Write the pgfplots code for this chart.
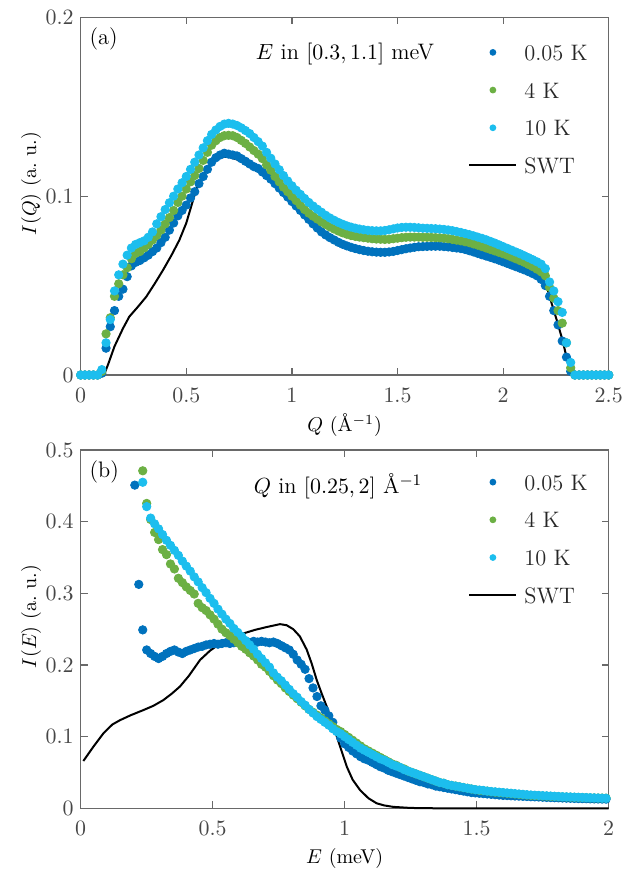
\documentclass[border=0pt]{standalone}
\usepackage{pgfplots}
\usepackage{pgfplotstable}
\pgfplotsset{compat=1.18}
\definecolor{c1}{RGB}{0,114,189}
\definecolor{c2}{RGB}{108,176,68}
\definecolor{c3}{RGB}{28,190,238}
\definecolor{axgray}{RGB}{105,105,105}
\definecolor{txtgray}{RGB}{70,70,70}
\newcommand\ff{\fontsize{11.2}{13.4}\selectfont}

\pgfplotstableread{
Q d05 d4 d10
0.00 0 0 0
0.02 0 0 0
0.04 0 0 0
0.06 0 0 0
0.08 0 0 0
0.10 0.001 0.002 0.003
0.12 0.015 0.023 0.018
0.14 0.027 0.032 0.031
0.16 0.036 0.044 0.047
0.18 0.044 0.051 0.056
0.20 0.048 0.056 0.062
0.22 0.055 0.060 0.067
0.24 0.061 0.065 0.071
0.26 0.063 0.068 0.073
0.28 0.064 0.069 0.074
0.30 0.0655 0.071 0.075
0.32 0.067 0.073 0.077
0.34 0.069 0.0755 0.080
0.36 0.071 0.078 0.0845
0.38 0.074 0.081 0.0885
0.40 0.077 0.0845 0.0925
0.42 0.081 0.088 0.0963
0.44 0.085 0.092 0.100
0.46 0.089 0.0965 0.104
0.48 0.092 0.100 0.1075
0.50 0.095 0.104 0.111
0.52 0.099 0.108 0.115
0.54 0.1025 0.1115 0.119
0.56 0.107 0.1155 0.123
0.58 0.111 0.120 0.127
0.60 0.115 0.1245 0.131
0.62 0.119 0.1285 0.1345
0.64 0.1215 0.131 0.137
0.66 0.123 0.1328 0.139
0.68 0.124 0.1338 0.1403
0.70 0.1235 0.134 0.1407
0.72 0.123 0.1338 0.1403
0.74 0.1225 0.1328 0.1395
0.76 0.121 0.1312 0.1382
0.78 0.1195 0.1295 0.1367
0.80 0.118 0.1275 0.135
0.82 0.1165 0.1255 0.1328
0.84 0.1155 0.1235 0.1305
0.86 0.1135 0.121 0.128
0.88 0.1115 0.1175 0.1245
0.90 0.1095 0.1145 0.1212
0.92 0.107 0.111 0.118
0.94 0.1045 0.108 0.1148
0.96 0.102 0.105 0.1115
0.98 0.0995 0.1025 0.1085
1.00 0.097 0.100 0.1058
1.02 0.0945 0.0975 0.1033
1.04 0.092 0.095 0.101
1.06 0.0895 0.0925 0.0987
1.08 0.087 0.0905 0.0965
1.10 0.0845 0.0888 0.0945
1.12 0.0822 0.0872 0.0927
1.14 0.080 0.0856 0.091
1.16 0.0783 0.0842 0.0893
1.18 0.0768 0.0828 0.0878
1.20 0.0755 0.0816 0.0865
1.22 0.0742 0.0805 0.0853
1.24 0.0731 0.0795 0.0843
1.26 0.0722 0.0787 0.0834
1.28 0.0714 0.078 0.0827
1.30 0.0707 0.0775 0.0821
1.32 0.0701 0.0771 0.0816
1.34 0.0696 0.0768 0.0812
1.36 0.0692 0.0765 0.0809
1.38 0.0689 0.0762 0.0807
1.40 0.0687 0.076 0.0806
1.42 0.0686 0.0759 0.0806
1.44 0.0686 0.0758 0.0808
1.46 0.0688 0.0759 0.0812
1.48 0.0691 0.0762 0.0817
1.50 0.0696 0.0765 0.0822
1.52 0.0701 0.0768 0.0825
1.54 0.0706 0.077 0.0826
1.56 0.071 0.0771 0.0826
1.58 0.0714 0.0771 0.0825
1.60 0.0717 0.0771 0.0823
1.62 0.0718 0.077 0.0821
1.64 0.0719 0.077 0.082
1.66 0.072 0.0769 0.0819
1.68 0.072 0.0768 0.0818
1.70 0.072 0.0767 0.0816
1.72 0.0718 0.0765 0.0814
1.74 0.0716 0.0762 0.0811
1.76 0.0713 0.0758 0.0807
1.78 0.071 0.0754 0.0802
1.80 0.0707 0.075 0.0797
1.82 0.0702 0.0745 0.0791
1.84 0.0695 0.074 0.0785
1.86 0.0688 0.0733 0.0778
1.88 0.068 0.0726 0.0771
1.90 0.0672 0.0718 0.0764
1.92 0.0665 0.071 0.0756
1.94 0.0658 0.0702 0.0747
1.96 0.065 0.0694 0.0738
1.98 0.0642 0.0686 0.0728
2.00 0.0633 0.0678 0.0718
2.02 0.0624 0.067 0.0708
2.04 0.0615 0.066 0.0698
2.06 0.0606 0.065 0.0688
2.08 0.0597 0.064 0.0678
2.10 0.0588 0.063 0.0667
2.12 0.0578 0.0618 0.0656
2.14 0.0567 0.0606 0.0645
2.16 0.0555 0.0592 0.0633
2.18 0.0535 0.0577 0.062
2.20 0.050 0.0555 0.0595
2.22 0.044 0.049 0.052
2.24 0.036 0.043 0.047
2.26 0.028 0.036 0.041
2.28 0.019 0.029 0.035
2.30 0.010 0.018 0.018
2.32 0.002 0.004 0.007
2.34 0 0 0
2.36 0 0 0
2.38 0 0 0
2.40 0 0 0
2.42 0 0 0
2.44 0 0 0
2.46 0 0 0
2.48 0 0 0
2.50 0 0 0
}\tabQ

\pgfplotstableread{
E d05 d4 d10
0.205 0.451 nan nan
0.220 0.3125 nan nan
0.235 0.249 0.471 0.455
0.250 0.221 0.4255 0.421
0.265 0.216 0.403 0.405
0.280 0.212 0.385 0.397
0.295 0.209 0.375 0.390
0.310 0.212 0.361 0.382
0.325 0.216 0.354 0.374
0.340 0.219 0.341 0.367
0.355 0.221 0.334 0.360
0.370 0.218 0.321 0.353
0.385 0.216 0.315 0.345
0.400 0.219 0.309 0.338
0.415 0.221 0.304 0.331
0.430 0.223 0.299 0.323
0.445 0.225 0.286 0.316
0.460 0.226 0.280 0.308
0.475 0.228 0.276 0.301
0.490 0.229 0.270 0.293
0.505 0.230 0.264 0.286
0.520 0.229 0.257 0.278
0.535 0.230 0.250 0.271
0.550 0.231 0.245 0.264
0.565 0.230 0.241 0.258
0.580 0.231 0.236 0.251
0.595 0.232 0.231 0.2455
0.610 0.231 0.226 0.240
0.625 0.232 0.222 0.234
0.640 0.231 0.217 0.228
0.655 0.233 0.2125 0.222
0.670 0.232 0.207 0.215
0.685 0.233 0.201 0.209
0.700 0.232 0.197 0.203
0.715 0.231 0.191 0.197
0.730 0.232 0.185 0.189
0.745 0.230 0.179 0.183
0.760 0.227 0.174 0.178
0.775 0.224 0.168 0.172
0.790 0.221 0.163 0.166
0.805 0.215 0.158 0.160
0.820 0.207 0.153 0.155
0.835 0.201 0.148 0.149
0.850 0.194 0.143 0.144
0.865 0.181 0.138 0.138
0.880 0.168 0.134 0.133
0.895 0.156 0.130 0.128
0.910 0.143 0.126 0.124
0.925 0.137 0.122 0.120
0.940 0.129 0.118 0.116
0.955 0.120 0.114 0.111
0.970 0.108 0.110 0.107
0.985 0.098 0.107 0.104
1.000 0.090 0.103 0.100
1.015 0.085 0.099 0.096
1.030 0.080 0.095 0.092
1.045 0.076 0.091 0.088
1.060 0.072 0.087 0.084
1.075 0.069 0.083 0.081
1.090 0.067 0.080 0.078
1.105 0.064 0.077 0.075
1.120 0.061 0.074 0.072
1.135 0.058 0.071 0.069
1.150 0.056 0.068 0.067
1.165 0.053 0.065 0.064
1.180 0.051 0.062 0.061
1.195 0.049 0.060 0.059
1.210 0.047 0.057 0.057
1.225 0.045 0.055 0.054
1.240 0.043 0.052 0.052
1.255 0.041 0.050 0.050
1.270 0.039 0.048 0.048
1.285 0.037 0.046 0.046
1.300 0.036 0.044 0.044
1.315 0.034 0.042 0.042
1.330 0.033 0.040 0.040
1.345 0.031 0.038 0.038
1.360 0.030 0.036 0.036
1.375 0.029 0.035 0.035
1.390 0.028 0.033 0.033
1.405 0.027 0.032 0.032
1.420 0.026 0.031 0.031
1.435 0.025 0.030 0.030
1.450 0.024 0.029 0.029
1.465 0.023 0.028 0.028
1.480 0.022 0.027 0.027
1.495 0.0215 0.026 0.026
1.510 0.021 0.025 0.0255
1.525 0.0205 0.0245 0.025
1.540 0.020 0.024 0.024
1.555 0.0195 0.023 0.0235
1.570 0.019 0.0225 0.023
1.585 0.0185 0.022 0.0225
1.600 0.018 0.0215 0.022
1.615 0.0178 0.021 0.0215
1.630 0.0175 0.0205 0.021
1.645 0.0172 0.020 0.0205
1.660 0.017 0.0195 0.020
1.675 0.0167 0.019 0.0195
1.690 0.0165 0.0185 0.019
1.705 0.0162 0.018 0.0186
1.720 0.016 0.0178 0.0183
1.735 0.0158 0.0175 0.018
1.750 0.0155 0.0172 0.0177
1.765 0.0152 0.017 0.0174
1.780 0.015 0.0167 0.0171
1.795 0.0148 0.0165 0.0168
1.810 0.0146 0.0162 0.0165
1.825 0.0144 0.016 0.0162
1.840 0.0142 0.0158 0.016
1.855 0.014 0.0156 0.0158
1.870 0.0138 0.0154 0.0156
1.885 0.0136 0.0152 0.0154
1.900 0.0135 0.015 0.0152
1.915 0.0134 0.0148 0.015
1.930 0.0132 0.0146 0.0148
1.945 0.0131 0.0145 0.0146
1.960 0.013 0.0144 0.0144
1.975 0.0129 0.0143 0.0142
1.990 0.0128 0.0142 0.014
}\tabE

\pgfplotsset{
  myaxis/.style={
    scale only axis, width=264pt, xmin=0, ymin=0, clip=false,
    axis line style={axgray, line width=0.6pt},
    every tick/.style={axgray, line width=0.6pt},
    tick align=inside, major tick length=3.5pt,
    xtick pos=both, ytick pos=both,
    tick label style={font=\ff, text=txtgray},
    label style={font=\ff, text=txtgray},
    xticklabel shift=3pt,
    every axis x label/.style={at={(axis description cs:0.5,-0.141)}, anchor=center},
    every axis y label/.style={at={(axis description cs:-0.094,0.535)}, anchor=center, rotate=90},
    legend style={draw=none, fill=none, anchor=north west, font=\ff, text=black!85,
      row sep=10.85pt, column sep=3.5pt, inner sep=0pt,
      nodes={inner sep=0pt, text height=8pt, text depth=0pt}},
    legend cell align=left,
  },
  dots/.style={only marks, mark=*, mark size=2.1pt, color=#1,
    legend image code/.code={\path[draw=none, fill=none] (0pt,0pt) -- (23.5pt,0pt); \path[draw=none, fill=#1] (11.75pt,0pt) circle (1.7pt);}},
  swt/.style={black, line width=1pt, no marks,
    legend image code/.code={\draw[black, line width=1pt] (0pt,0pt) -- (23.5pt,0pt);}},
}

\begin{document}
\begin{tikzpicture}
\useasboundingbox (0,0) rectangle (312pt,-435.5pt);
\begin{axis}[myaxis, at={(40.35pt,-187.5pt)}, anchor=south west, height=178.85pt,
  xmax=2.5, ymax=0.2, xtick={0,0.5,1,1.5,2,2.5}, ytick={0,0.1,0.2},
  xlabel={$Q$ (\AA$^{-1}$)}, ylabel={$I(Q)$ (a.~u.)},
  legend style={at={(0.7335,0.9254)}}]
\addplot[dots=c1] table[x=Q, y=d05] {\tabQ};
\addlegendentry{0.05 K}
\addplot[dots=c2] table[x=Q, y=d4] {\tabQ};
\addlegendentry{4 K}
\addplot[dots=c3] table[x=Q, y=d10] {\tabQ};
\addlegendentry{10 K}
\addplot[swt] coordinates {(0,0) (0.11,0) (0.13,0.006) (0.16,0.016) (0.2,0.026) (0.23,0.0326) (0.27,0.038) (0.31,0.0437) (0.35,0.051) (0.39,0.0587) (0.43,0.067) (0.467,0.0754) (0.50,0.085) (0.546,0.1034) (0.594,0.1145) (0.63,0.1195) (0.657,0.1218) (0.70,0.122) (0.74,0.1205) (0.815,0.1164) (0.85,0.1145) (0.894,0.1108) (0.94,0.1055) (0.989,0.0996) (1.035,0.093) (1.084,0.0866) (1.13,0.0815) (1.179,0.0773) (1.23,0.0737) (1.289,0.0708) (1.35,0.0688) (1.41,0.0677) (1.448,0.0676) (1.49,0.068) (1.527,0.0689) (1.566,0.0702) (1.606,0.0713) (1.66,0.0724) (1.716,0.0731) (1.76,0.0733) (1.80,0.073) (1.843,0.0717) (1.90,0.0695) (1.954,0.067) (2.01,0.0643) (2.065,0.0615) (2.12,0.0583) (2.175,0.055) (2.207,0.0493) (2.23,0.040) (2.254,0.0307) (2.28,0.020) (2.30,0.0102) (2.325,0.001) (2.34,0) (2.5,0)};
\addlegendentry{SWT}
\node[anchor=west, inner sep=0pt, font=\ff] at (rel axis cs:0.0163,0.9393) {(a)};
\node[inner sep=0pt, font=\ff] at (rel axis cs:0.5006,0.8974) {$E$ in $[0.3, 1.1]$ meV};
\end{axis}

\begin{axis}[myaxis, at={(40.35pt,-404.15pt)}, anchor=south west, height=179.15pt,
  xmax=2, ymax=0.5, xtick={0,0.5,1,1.5,2}, ytick={0,0.1,0.2,0.3,0.4,0.5},
  xlabel={$E$ (meV)}, ylabel={$I(E)$ (a.~u.)},
  legend style={at={(0.7335,0.9338)}}]
\addplot[dots=c1] table[x=E, y=d05] {\tabE};
\addlegendentry{0.05 K}
\addplot[dots=c2] table[x=E, y=d4] {\tabE};
\addlegendentry{4 K}
\addplot[dots=c3] table[x=E, y=d10] {\tabE};
\addlegendentry{10 K}
\addplot[swt] coordinates {(0.01,0.066) (0.05,0.087) (0.086,0.1046) (0.12,0.117) (0.149,0.123) (0.19,0.130) (0.237,0.137) (0.275,0.143) (0.313,0.151) (0.345,0.160) (0.376,0.170) (0.41,0.185) (0.452,0.207) (0.49,0.220) (0.528,0.230) (0.57,0.238) (0.616,0.244) (0.66,0.249) (0.705,0.253) (0.755,0.257) (0.78,0.2555) (0.805,0.250) (0.83,0.240) (0.856,0.2215) (0.875,0.202) (0.894,0.179) (0.913,0.160) (0.932,0.142) (0.951,0.121) (0.970,0.100) (0.99,0.078) (1.008,0.058) (1.03,0.040) (1.058,0.0255) (1.09,0.014) (1.121,0.007) (1.15,0.004) (1.184,0.002) (1.25,0.0005) (1.35,0) (2,0)};
\addlegendentry{SWT}
\node[anchor=west, inner sep=0pt, font=\ff] at (rel axis cs:0.0163,0.9386) {(b)};
\node[inner sep=0pt, font=\ff] at (rel axis cs:0.4873,0.8995) {$Q$ in $[0.25, 2]$ \AA$^{-1}$};
\end{axis}
\end{tikzpicture}
\end{document}
